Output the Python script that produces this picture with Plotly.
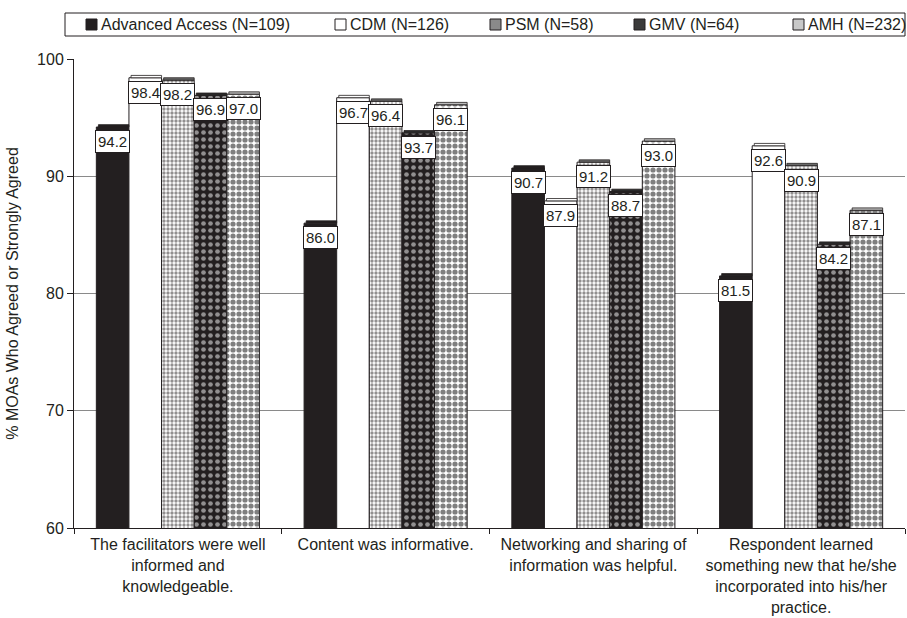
import plotly.graph_objects as go

categories = [
    "The facilitators were well<br>informed and<br>knowledgeable.",
    "Content was informative.",
    "Networking and sharing of<br>information was helpful.",
    "Respondent learned<br>something new that he/she<br>incorporated into his/her<br>practice.",
]
series_names = [
    "Advanced Access (N=109)",
    "CDM (N=126)",
    "PSM (N=58)",
    "GMV (N=64)",
    "AMH (N=232)",
]
advanced_access = [94.2, 86.0, 90.7, 81.5]
cdm = [98.4, 96.7, 87.9, 92.6]
psm = [98.2, 96.4, 91.2, 90.9]
gmv = [96.9, 93.7, 88.7, 84.2]
amh = [97.0, 96.1, 93.0, 87.1]
series_values = [advanced_access, cdm, psm, gmv, amh]

y_ticks = [60, 70, 80, 90, 100]

FONT = "Liberation Sans, Arial, sans-serif"
INK = "#231f20"

# fill style per programme
styles = [
    dict(color=INK, pattern=dict(shape="")),
    dict(color="white", pattern=dict(shape="")),
    dict(color="white", pattern=dict(shape=".", fgcolor=INK, bgcolor="white",
                                     size=4, solidity=0.55, fillmode="overlay")),
    dict(color=INK, pattern=dict(shape=".", fgcolor="white", bgcolor=INK,
                                 size=7, solidity=0.35, fillmode="overlay")),
    dict(color="white", pattern=dict(shape=".", fgcolor="black", bgcolor="white",
                                     size=6, solidity=0.6, fillmode="overlay")),
]
cap_colors = [INK, "white", "#6a6a6a", "#2a2a2a", "#bbbbbb"]
legend_swatch = [INK, "white", "#8a8a8a", "#3a3a3a", "#c8c8c8"]

W, H = 907, 618
margin = dict(l=74, r=2, t=59, b=90)
plot_w = W - margin["l"] - margin["r"]
plot_h = H - margin["t"] - margin["b"]
group_frac = 0.785
n = len(series_names)
bar_w = group_frac / n  # category units
start = -group_frac / 2


def px_x(p):
    return (p - margin["l"]) / plot_w


def px_y(p):
    return (H - margin["b"] - p) / plot_h


fig = go.Figure()
for i, (name, vals) in enumerate(zip(series_names, series_values)):
    st = styles[i]
    fig.add_trace(go.Bar(
        name=name, x=categories, y=vals, base=0,
        offset=start + i * bar_w, width=bar_w,
        marker=dict(color=st["color"], pattern=st["pattern"],
                    line=dict(color=INK, width=1)),
        showlegend=False,
    ))

# thin raised top face on each bar
for i, vals in enumerate(series_values):
    fig.add_trace(go.Bar(
        x=categories, y=[0.2] * len(vals), base=vals,
        offset=start + i * bar_w + 0.01, width=bar_w - 0.01,
        marker=dict(color=cap_colors[i], line=dict(color=INK, width=0.8)),
        showlegend=False, hoverinfo="skip",
    ))

# boxed value labels just under each bar top
for i, vals in enumerate(series_values):
    for cat, v in zip(categories, vals):
        fig.add_annotation(
            x=cat, y=v, xref="x", yref="y", text=f"{v:.1f}", showarrow=False,
            xanchor="center", yanchor="top", yshift=-3,
            xshift=(start + (i + 0.5) * bar_w) * plot_w / len(categories),
            font=dict(family=FONT, size=15, color=INK),
            bgcolor="white", bordercolor=INK, borderwidth=1, borderpad=2,
        )

# legend strip across the top
legend_box = (65, 13, 905, 36)
legend_swatch_x = [86, 335, 490, 634, 793]
fig.add_shape(type="rect", xref="paper", yref="paper",
              x0=px_x(legend_box[0]), x1=px_x(legend_box[2]),
              y0=px_y(legend_box[3]), y1=px_y(legend_box[1]),
              line=dict(color=INK, width=1), fillcolor="white", layer="above")
for name, sx, col in zip(series_names, legend_swatch_x, legend_swatch):
    fig.add_shape(type="rect", xref="paper", yref="paper",
                  x0=px_x(sx), x1=px_x(sx + 11), y0=px_y(30), y1=px_y(19),
                  line=dict(color=INK, width=1), fillcolor=col, layer="above")
    fig.add_annotation(x=px_x(sx + 13), y=px_y(24.5), xref="paper", yref="paper",
                       text=name, showarrow=False, xanchor="left", yanchor="middle",
                       font=dict(family=FONT, size=16, color=INK))

fig.update_layout(
    width=W, height=H, margin=margin, barmode="overlay", showlegend=False,
    plot_bgcolor="white", paper_bgcolor="white",
    font=dict(family=FONT, size=16, color=INK),
    yaxis=dict(
        range=[60, 100], tickvals=y_ticks, showgrid=True, gridcolor="#8a8a8a",
        gridwidth=1, showline=True, linecolor=INK, ticks="outside",
        ticklen=6, tickcolor=INK, zeroline=False, automargin=False,
        title=dict(text="% MOAs Who Agreed or Strongly Agreed",
                   font=dict(size=16), standoff=14),
        tickfont=dict(size=16),
    ),
    xaxis=dict(
        showline=True, linecolor=INK, ticks="outside", tickson="boundaries",
        ticklen=5, tickcolor=INK, tickfont=dict(size=16), ticklabelstandoff=2,
        automargin=False,
    ),
)

fig.write_html("out.html")
